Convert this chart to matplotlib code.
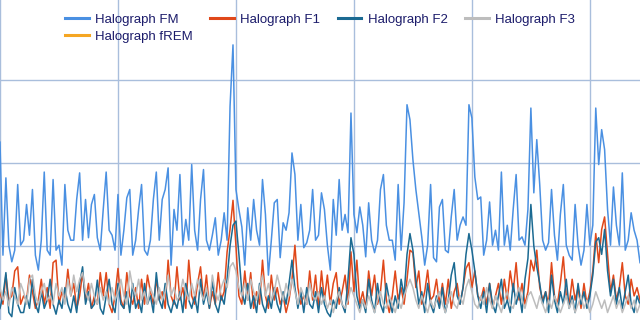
import numpy as np
import matplotlib
matplotlib.use("Agg")
from matplotlib import pyplot as plt

# halograph readings, one value per sample
fm = [22.5, 8.9, 18.2, 10.1, 8.1, 9.5, 17.4, 10.1, 10.7, 15.0,
      11.3, 16.8, 8.9, 7.1, 10.7, 18.9, 9.5, 8.9, 18.0, 9.5,
      10.1, 7.7, 17.4, 11.9, 10.7, 10.7, 15.6, 18.8, 10.7, 15.6,
      11.0, 15.0, 16.2, 11.0, 9.5, 14.4, 18.9, 11.9, 11.3, 9.5,
      16.2, 8.9, 11.9, 15.8, 16.8, 8.9, 10.7, 14.4, 17.4, 9.5,
      8.9, 10.7, 15.6, 18.9, 10.7, 15.6, 16.8, 19.4, 7.7, 14.4,
      11.9, 18.6, 10.1, 13.2, 10.7, 19.8, 11.9, 9.5, 15.6, 19.2,
      10.7, 9.5, 11.3, 13.4, 8.9, 10.7, 14.0, 10.7, 26.8, 34.2,
      16.8, 14.4, 12.3, 7.7, 14.6, 10.7, 15.6, 11.9, 10.1, 18.0,
      13.8, 6.5, 10.7, 15.2, 15.6, 8.6, 12.8, 11.9, 14.0, 21.2,
      18.6, 10.7, 15.0, 9.8, 10.4, 11.9, 16.8, 10.7, 11.3, 16.4,
      14.4, 10.1, 7.1, 15.6, 11.3, 18.0, 11.9, 13.8, 11.6, 26.0,
      13.8, 11.6, 14.7, 12.5, 8.7, 15.2, 10.7, 9.2, 10.7, 16.8,
      18.6, 12.5, 10.7, 10.7, 8.3, 17.4, 9.5, 15.2, 27.0, 25.2,
      20.4, 16.8, 14.0, 11.1, 7.7, 10.1, 17.4, 8.6, 8.1, 14.7,
      15.6, 9.5, 9.2, 13.5, 16.8, 10.7, 12.5, 13.5, 12.5, 27.0,
      25.4, 18.3, 15.6, 15.9, 8.9, 10.7, 15.3, 10.1, 11.9, 9.5,
      18.9, 10.1, 12.5, 9.5, 14.4, 18.6, 10.7, 11.1, 10.1, 14.4,
      26.6, 16.4, 22.8, 17.4, 10.7, 9.5, 10.4, 16.8, 11.3, 8.3,
      13.8, 17.4, 10.1, 8.9, 8.3, 15.0, 10.1, 7.7, 9.5, 15.0,
      10.1, 12.5, 26.6, 19.8, 24.0, 21.6, 14.4, 10.1, 17.1, 12.5,
      10.1, 18.8, 9.5, 10.7, 14.0, 11.9, 10.7, 8.0]

f1 = [4.5, 3.0, 6.5, 3.5, 4.0, 7.0, 7.5, 3.0, 4.0, 3.5,
      6.5, 4.5, 2.5, 3.5, 6.0, 3.0, 5.0, 2.5, 8.0, 8.3,
      3.0, 4.5, 3.5, 7.2, 4.0, 5.5, 2.5, 4.0, 6.8, 3.5,
      5.5, 2.5, 4.0, 3.0, 6.8, 4.0, 6.8, 3.0, 2.0, 4.0,
      7.3, 3.5, 2.5, 6.8, 4.0, 3.0, 5.0, 2.5, 6.0, 3.0,
      6.5, 4.5, 3.0, 6.0, 3.5, 4.5, 2.5, 8.3, 4.0, 3.0,
      7.5, 3.5, 5.0, 2.5, 8.3, 4.0, 3.0, 5.5, 7.5, 3.5,
      6.5, 2.5, 4.5, 3.0, 6.8, 3.5, 4.5, 9.3, 12.0, 15.5,
      10.0, 4.0, 3.0, 7.0, 3.5, 6.8, 2.5, 4.5, 3.0, 8.3,
      4.0, 2.5, 6.5, 3.5, 5.0, 3.0, 4.0, 2.0, 3.5, 6.0,
      10.1, 5.0, 3.0, 4.0, 3.0, 7.0, 3.5, 6.5, 2.5, 7.0,
      3.5, 6.5, 3.0, 5.5, 6.8, 3.0, 4.5, 6.5, 3.0, 9.3,
      4.5, 8.3, 3.0, 4.5, 2.5, 7.0, 4.0, 6.5, 3.0, 4.5,
      8.3, 3.5, 2.0, 4.0, 7.0, 3.5, 5.0, 3.0, 6.0, 9.5,
      9.2, 5.0, 7.0, 3.0, 4.5, 7.1, 3.5, 4.0, 6.0, 3.0,
      5.5, 3.0, 6.0, 2.5, 4.5, 5.5, 3.0, 5.0, 7.3, 8.0,
      5.0, 7.0, 4.0, 3.5, 5.0, 3.0, 5.5, 2.5, 4.0, 5.5,
      3.0, 6.0, 3.5, 7.0, 4.5, 8.0, 3.5, 5.5, 3.0, 4.5,
      8.3, 7.0, 9.5, 5.0, 3.5, 4.5, 3.0, 8.0, 4.0, 3.0,
      5.5, 8.7, 4.0, 3.0, 6.0, 3.5, 5.0, 2.5, 5.5, 3.0,
      4.5, 7.0, 11.5, 8.0, 12.0, 13.5, 9.0, 4.5, 6.5, 3.5,
      5.0, 8.0, 4.0, 3.0, 6.0, 4.0, 5.0, 3.5]

f2 = [2.5, 4.0, 6.8, 2.0, 1.5, 5.0, 3.0, 2.0, 2.0, 4.0,
      2.5, 6.0, 3.0, 2.0, 4.5, 2.5, 3.5, 6.0, 3.0, 1.8,
      3.5, 2.5, 5.0, 3.0, 2.0, 4.0, 2.0, 5.5, 7.5, 3.0,
      4.5, 2.5, 3.0, 5.9, 2.5, 1.8, 4.0, 6.0, 3.0, 2.0,
      5.5, 3.0, 2.5, 4.5, 2.0, 5.5, 2.5, 3.5, 2.0, 5.5,
      3.0, 4.0, 2.0, 6.8, 3.5, 2.5, 5.5, 3.0, 2.0, 3.5,
      2.5, 4.5, 2.0, 5.5, 3.5, 2.5, 4.0, 2.0, 6.0, 3.0,
      4.5, 2.5, 5.8, 3.0, 2.0, 4.0, 3.0, 6.0, 10.0, 12.5,
      13.0, 9.0, 4.5, 3.0, 5.5, 2.5, 4.0, 2.0, 5.5, 3.0,
      2.0, 4.0, 2.5, 5.0, 3.0, 2.0, 4.5, 3.0, 5.5, 8.3,
      5.0, 2.5, 4.5, 2.0, 5.0, 3.0, 2.5, 4.5, 2.0, 5.0,
      3.0, 2.0, 1.5, 3.5, 2.5, 5.0, 3.0, 2.0, 6.0, 11.0,
      9.0, 4.0, 2.5, 3.5, 2.0, 6.0, 3.5, 2.0, 5.5, 3.0,
      2.0, 5.5, 3.5, 2.0, 4.0, 2.5, 6.0, 4.0, 9.0, 11.5,
      9.5, 6.0, 3.0, 4.5, 2.0, 5.5, 3.0, 2.0, 4.0, 2.5,
      5.0, 2.0, 3.5, 6.5, 8.0, 4.0, 3.0, 5.0, 9.0, 11.5,
      9.5, 7.0, 4.0, 2.5, 4.5, 2.0, 5.5, 3.0, 2.0, 4.0,
      6.0, 2.5, 3.5, 2.0, 5.5, 3.0, 4.5, 2.0, 6.0, 8.5,
      15.0, 10.0, 7.5, 5.5, 3.0, 4.5, 2.0, 6.5, 3.5, 2.0,
      4.5, 3.0, 6.0, 2.5, 4.0, 2.0, 5.5, 3.0, 4.5, 2.5,
      4.0, 6.5, 10.5, 11.0, 9.0, 12.0, 7.0, 4.0, 6.0, 3.0,
      5.0, 2.5, 4.5, 6.5, 3.0, 2.0, 4.0, 3.0]

f3 = [5.0, 3.5, 4.5, 2.8, 5.0, 4.0, 3.0, 5.5, 4.5, 3.0,
      6.0, 6.5, 4.0, 3.0, 4.5, 5.5, 3.5, 4.0, 3.0, 5.5,
      4.0, 5.0, 3.0, 6.0, 4.0, 6.5, 4.5, 6.0, 6.8, 4.5,
      3.5, 5.5, 4.0, 3.0, 5.0, 3.5, 4.5, 3.0, 5.0, 3.5,
      4.5, 6.0, 4.0, 3.0, 7.0, 5.0, 4.0, 6.0, 3.5, 4.5,
      3.0, 5.0, 4.0, 3.0, 5.0, 3.5, 4.5, 6.5, 4.0, 5.0,
      3.5, 4.0, 6.0, 4.5, 3.5, 5.5, 4.0, 6.0, 4.5, 3.5,
      5.0, 3.0, 6.5, 4.5, 3.5, 5.0, 6.0, 5.0, 7.5, 8.0,
      7.0, 5.0, 4.0, 5.5, 3.5, 6.0, 4.5, 3.5, 5.0, 6.5,
      4.0, 5.5, 3.5, 4.5, 6.5, 5.0, 3.5, 5.5, 4.0, 6.0,
      4.5, 3.0, 5.0, 4.0, 3.0, 5.5, 4.0, 3.5, 4.5, 3.0,
      4.0, 2.5, 3.5, 2.0, 3.5, 4.5, 3.0, 2.5, 3.5, 5.0,
      4.0, 3.0, 2.0, 3.5, 2.5, 4.0, 3.0, 2.0, 3.5, 4.5,
      3.0, 2.5, 4.0, 3.0, 2.0, 3.5, 2.5, 4.0, 5.0, 6.0,
      5.0, 3.5, 2.5, 4.0, 3.0, 2.0, 3.5, 2.5, 3.5, 4.5,
      3.0, 2.0, 3.5, 4.5, 3.0, 2.5, 4.0, 3.0, 5.0, 6.0,
      4.5, 3.0, 2.5, 4.0, 3.0, 5.0, 3.5, 2.5, 4.0, 3.0,
      2.0, 3.5, 4.5, 3.0, 2.5, 4.0, 5.0, 3.5, 2.5, 4.0,
      4.5, 3.5, 2.5, 4.0, 3.0, 2.0, 3.5, 2.5, 4.0, 3.0,
      2.0, 3.0, 4.0, 2.5, 3.5, 2.0, 3.0, 4.0, 2.5, 3.5,
      2.0, 3.0, 4.5, 3.5, 2.5, 3.5, 2.0, 3.0, 4.0, 2.5,
      3.5, 2.0, 3.0, 4.0, 2.5, 3.5, 2.0, 3.0]

# fREM stays at zero over the whole window
frem_x = [0, 217]
frem = [0.0, 0.0]

names = ["Halograph FM", "Halograph F1", "Halograph F2", "Halograph F3", "Halograph fREM"]
colors = ["#4a90e2", "#e0481a", "#1b6a92", "#bdbdbd", "#f5a623"]

x = np.arange(len(fm))

fig = plt.figure(figsize=(6.4, 3.2), dpi=100)
ax = fig.add_axes([0, 0, 1, 1])

lines = []
for vals, c, name in zip([fm, f1, f2, f3], colors[:4], names[:4]):
    ln, = ax.plot(x, vals, color=c, lw=1.1, label=name)
    lines.append(ln)
ln, = ax.plot(frem_x, frem, color=colors[4], lw=1.1, label=names[4])
lines.append(ln)

ax.set_xlim(0, 217)
ax.set_ylim(1.1, 39.6)
ax.set_xticks([0, 40, 80, 120, 160, 200])
ax.set_yticks([10, 20, 30])
ax.grid(True, color="#a9bedc", lw=1)
ax.set_axisbelow(True)
ax.tick_params(length=0, labelbottom=False, labelleft=False)
for s in ax.spines.values():
    s.set_visible(False)

# column-major fill: FM/fREM share the first column
order = [0, 4, 1, 2, 3]
leg = ax.legend([lines[i] for i in order], [names[i] for i in order],
                loc="upper center", bbox_to_anchor=(0.5, 1.0), ncol=4,
                frameon=False, prop={"family": "Liberation Sans", "size": 9.5},
                handlelength=1.8, handletextpad=0.5, columnspacing=1.3,
                labelspacing=0.35, borderaxespad=0.65)
for t in leg.get_texts():
    t.set_color("#1c1c6b")
for h in leg.legend_handles:
    h.set_linewidth(2.2)

fig.savefig("out.png", dpi=100)
